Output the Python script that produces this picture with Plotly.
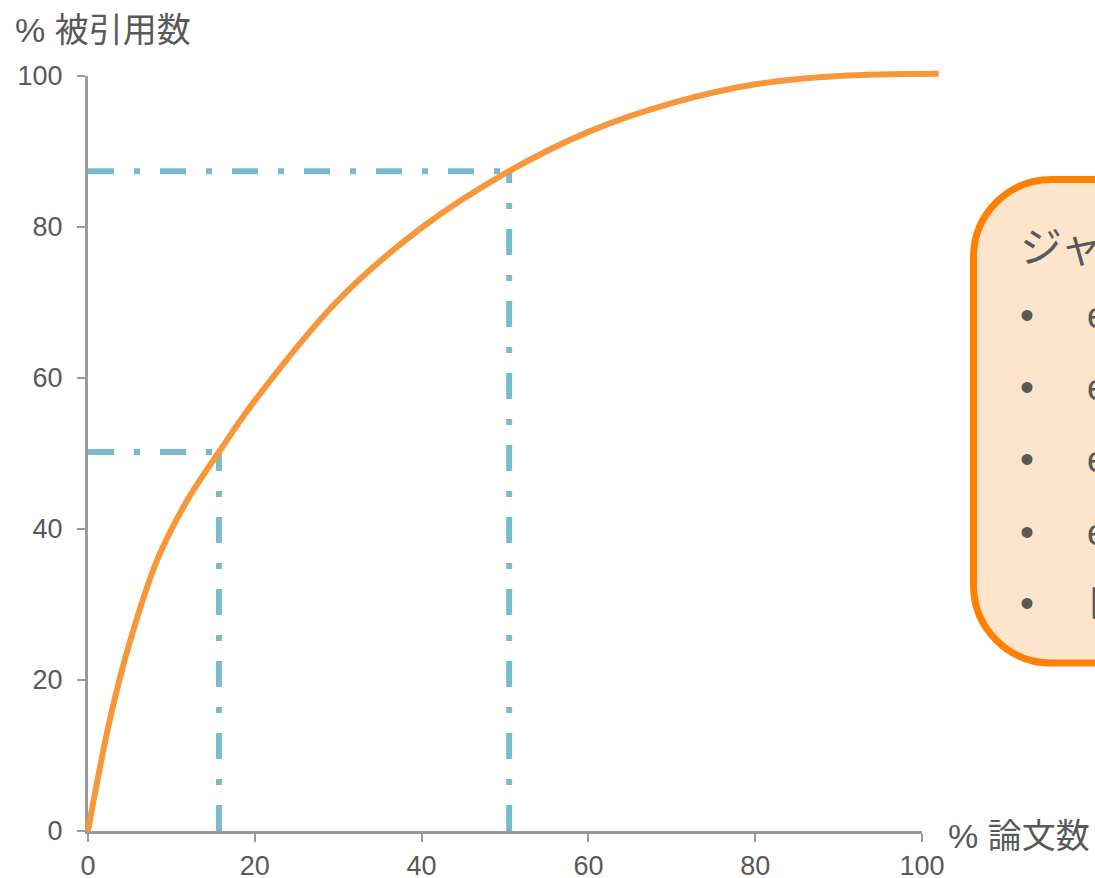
import plotly.graph_objects as go

# ---- data ----
paper_pct = [0, 0.84, 2.43, 4.64, 8.3, 11.8, 15.7, 20, 30, 40, 50.5, 60, 70, 80, 90, 102]
cite_pct = [0, 5.0, 13.8, 23.6, 35.9, 43.6, 50.2, 57.0, 70.3, 79.9, 87.4, 92.6, 96.4, 98.9, 100.0, 100.3]
x_ticks = [0, 20, 40, 60, 80, 100]
y_ticks = [0, 20, 40, 60, 80, 100]
mark_x = [15.7, 50.5]
mark_y = [50.2, 87.4]
box_title = "ジャーナルの特徴"
box_items = ["e少数の論文に引用が集中", "e半数の論文で約9割の引用", "e上位15%で引用の半分", "e残りの論文は引用が少ない", "目立つ論文が指標を左右"]

# ---- geometry (pixels) ----
W, H = 1095, 878
L, R, T, B = 78, 95, 66, 37
PW, PH = W - L - R, H - T - B
X0, X100 = 88, 922
Y0, Y100 = 831, 76
sx = (X100 - X0) / 100.0
sy = (Y0 - Y100) / 100.0

def pxx(px):
    return (px - L) / PW

def pxy(py):
    return (H - B - py) / PH

ORANGE = "#f8963a"
BLUE = "rgb(122,186,205)"
GREY = "#9a9a9a"
TXT = "#595959"
DASH = "26px,20px,6px,20px"

fig = go.Figure()

fig.add_trace(go.Scatter(x=[0], y=[0], mode="markers", marker=dict(opacity=0),
                         hoverinfo="skip", showlegend=False, xaxis="x", yaxis="y"))

for mx, my in zip(mark_x, mark_y):
    fig.add_trace(go.Scatter(x=[0, mx], y=[my, my], mode="lines",
                             line=dict(color=BLUE, width=6, dash=DASH),
                             showlegend=False, hoverinfo="skip", xaxis="x2", yaxis="y2"))
    fig.add_trace(go.Scatter(x=[mx, mx], y=[0, my], mode="lines",
                             line=dict(color=BLUE, width=6, dash=DASH),
                             showlegend=False, hoverinfo="skip", xaxis="x2", yaxis="y2"))

fig.add_trace(go.Scatter(x=paper_pct, y=cite_pct, mode="lines",
                         line=dict(color=ORANGE, width=6, shape="spline", smoothing=1.0),
                         showlegend=False, xaxis="x2", yaxis="y2"))

axis_common = dict(showgrid=False, zeroline=False, showline=True, linecolor=GREY, linewidth=3,
                   ticks="outside", ticklen=8, tickwidth=2, tickcolor=GREY, automargin=False,
                   tickfont=dict(family="Liberation Sans, Arial", size=27, color=TXT))

fig.update_layout(
    template="none",
    width=W, height=H,
    margin=dict(l=L, r=R, t=T, b=B, autoexpand=False),
    paper_bgcolor="white", plot_bgcolor="rgba(0,0,0,0)",
    xaxis=dict(domain=[pxx(X0), pxx(X100)], range=[0, 100], anchor="y", ticklabelstandoff=1,
               tickvals=x_ticks, ticktext=[str(v) for v in x_ticks], **axis_common),
    yaxis=dict(domain=[pxy(Y0), pxy(Y100)], range=[0, 100], anchor="x",
               tickvals=y_ticks, ticktext=[str(v) for v in y_ticks], ticklabelstandoff=9, **axis_common),
    xaxis2=dict(domain=[0, 1], anchor="y2", visible=False, automargin=False,
                range=[(L - X0) / sx, (L + PW - X0) / sx]),
    yaxis2=dict(domain=[0, 1], anchor="x2", visible=False, automargin=False,
                range=[(Y0 - (H - B)) / sy, (Y0 - T) / sy]),
)

# rounded box (partially off-page)
bl, bt, bb, br, rad = 973.5, 179.5, 663, 1400, 78
k = 0.5523 * rad
pts = [
    f"M {pxx(br)} {pxy(bt)}",
    f"L {pxx(bl + rad)} {pxy(bt)}",
    f"C {pxx(bl + rad - k)} {pxy(bt)} {pxx(bl)} {pxy(bt + rad - k)} {pxx(bl)} {pxy(bt + rad)}",
    f"L {pxx(bl)} {pxy(bb - rad)}",
    f"C {pxx(bl)} {pxy(bb - rad + k)} {pxx(bl + rad - k)} {pxy(bb)} {pxx(bl + rad)} {pxy(bb)}",
    f"L {pxx(br)} {pxy(bb)} Z",
]
fig.add_shape(type="path", path=" ".join(pts), xref="paper", yref="paper",
              fillcolor="#fde5cc", line=dict(color="#ff8000", width=7), layer="above")

fig.add_annotation(text=box_title, xref="paper", yref="paper", x=pxx(1018), y=pxy(243),
                   xanchor="left", yanchor="middle", showarrow=False,
                   font=dict(family="Noto Sans CJK JP", size=42, color=TXT))
bullet_y = [315, 387, 459, 532, 603]
for by, item in zip(bullet_y, box_items):
    fig.add_annotation(text="•", xref="paper", yref="paper", x=pxx(1027), y=pxy(by),
                       xanchor="center", yanchor="middle", showarrow=False,
                       font=dict(family="Liberation Sans, Arial", size=40, color=TXT))
    fig.add_annotation(text=item, xref="paper", yref="paper", x=pxx(1085), y=pxy(by),
                       xanchor="left", yanchor="middle", showarrow=False,
                       font=dict(family="Liberation Sans, Noto Sans CJK JP", size=36, color=TXT))

# axis titles
fig.add_annotation(text="% 被引用数", xref="paper", yref="paper", x=pxx(13), y=pxy(30),
                   xanchor="left", yanchor="middle", showarrow=False,
                   font=dict(family="Liberation Sans, Noto Sans CJK JP", size=34, color=TXT))
fig.add_annotation(text="% 論文数", xref="paper", yref="paper", x=pxx(946), y=pxy(836),
                   xanchor="left", yanchor="middle", showarrow=False,
                   font=dict(family="Liberation Sans, Noto Sans CJK JP", size=34, color=TXT))

fig.write_html("out.html", config={"displayModeBar": False},
               post_script="document.body.style.margin='0';")
